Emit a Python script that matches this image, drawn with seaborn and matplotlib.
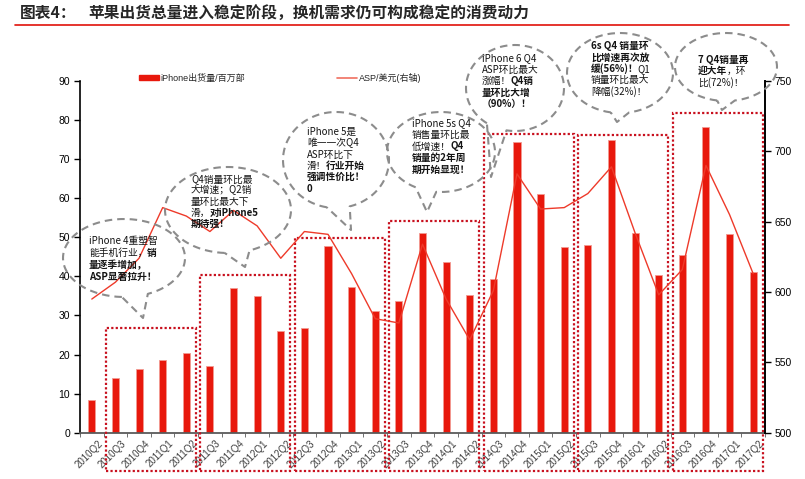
import numpy as np
import pandas as pd
import matplotlib
matplotlib.use('Agg')
import matplotlib.pyplot as plt
import matplotlib.transforms as mtransforms
from matplotlib.patches import Rectangle, Patch
from matplotlib.lines import Line2D
import seaborn as sns

# ---- data ----
quarters = ['2010Q2', '2010Q3', '2010Q4', '2011Q1', '2011Q2', '2011Q3', '2011Q4', '2012Q1',
            '2012Q2', '2012Q3', '2012Q4', '2013Q1', '2013Q2', '2013Q3', '2013Q4', '2014Q1',
            '2014Q2', '2014Q3', '2014Q4', '2015Q1', '2015Q2', '2015Q3', '2015Q4', '2016Q1',
            '2016Q2', '2016Q3', '2016Q4', '2017Q1', '2017Q2']
shipments = [8.4, 14.1, 16.2, 18.6, 20.3, 17.1, 37.0, 35.0, 26.0, 26.9, 47.8, 37.4, 31.2, 33.8,
             51.0, 43.7, 35.2, 39.3, 74.5, 61.2, 47.5, 48.0, 74.8, 51.2, 40.4, 45.5, 78.3, 50.8, 41.0]
asp = [595, 607, 624, 660, 654, 643, 658, 647, 624, 643, 641, 613, 581, 578, 634, 595, 566, 601,
       684, 659, 660, 670, 689, 642, 598, 616, 690, 655, 613]
# top of each dotted "product year" box, left axis units
group_tops = [26.8, 40.4, 49.8, 54.2, 76.4, 76.2, 81.7]

title_tag = '图表4：'
title = '苹果出货总量进入稳定阶段，换机需求仍可构成稳定的消费动力'
bar_label = 'iPhone出货量/百万部'
line_label = 'ASP/美元(右轴)'

# bubble notes: lines of (text, bold) segments
notes = [
    [[('iPhone 4重塑智', False)], [('能手机行业，', False), ('销', True)],
     [('量逐季增加，', True)], [('ASP显著拉升！', True)]],
    [[('Q4销量环比最', False)], [('大增速；Q2销', False)], [('量环比最大下', False)],
     [('滑，', False), ('对iPhone5', True)], [('期待强！', True)]],
    [[('iPhone 5是', False)], [('唯一一次Q4', False)], [('ASP环比下', False)],
     [('滑！', False), ('行业开始', True)], [('强调性价比！', True)], [('0', True)]],
    [[('iPhone 5s Q4', False)], [('销售量环比最', False)], [('低增速！', False), ('Q4', True)],
     [('销量的2年周', True)], [('期开始显现！', True)]],
    [[('iPhone 6 Q4', False)], [('ASP环比最大', False)], [('涨幅！', False), ('Q4销', True)],
     [('量环比大增', True)], [('（90%）！', True)]],
    [[('6s Q4 销量环', True)], [('比增速再次放', True)], [('缓(56%)！', True), ('Q1', False)],
     [('销量环比最大', False)], [('降幅(32%)！', False)]],
    [[('7 Q4销量再', True)], [('迎大年', True), ('，环', False)], [('比(72%)！', False)]],
]

# bubble layout in figure pixels: centre, half axes, tail gap angles, tail tip, text origin
bubbles = [
    dict(c=(124, 258), r=(61, 39), gap=(67, 92), tip=(143, 318), txt=(89, 241), dy=12),
    dict(c=(228, 210), r=(63, 43), gap=(70, 93), tip=(245, 267), txt=(191, 179), dy=11.3),
    dict(c=(336, 160), r=(53, 48), gap=(75, 100), tip=(351, 230), txt=(307, 132), dy=11.3),
    dict(c=(441, 152), r=(54, 40), gap=(95, 118), tip=(427, 212), txt=(412, 123), dy=11.7),
    dict(c=(515, 88), r=(49, 43), gap=(100, 125), tip=(491, 177), txt=(482, 58), dy=11.5),
    dict(c=(620, 73), r=(53, 40), gap=(80, 100), tip=(617, 122), txt=(591, 46), dy=11.3),
    dict(c=(726, 67), r=(51, 34), gap=(80, 100), tip=(722, 110), txt=(698, 60), dy=11.2),
]

RED = '#E8180C'
LINE_RED = '#EE3A2A'
BOX_RED = '#C8101E'
GRAY = '#8C8C8C'
CJK = ['Noto Sans CJK SC', 'DejaVu Sans']

sns.set_style('white')
plt.rcParams['font.family'] = ['Liberation Sans', 'Noto Sans CJK SC', 'DejaVu Sans']

n = len(quarters)
df = pd.DataFrame({'quarter': quarters, 'shipments': shipments, 'asp': asp, 'pos': np.arange(n)})

W, H = 805, 479
fig = plt.figure(figsize=(W / 100, H / 100), dpi=100)
ax = fig.add_axes([80 / W, (H - 432.7) / H, 685 / W, 351.7 / H])

sns.barplot(data=df, x='quarter', y='shipments', color=RED, width=0.3, saturation=1,
            edgecolor='#F29A92', linewidth=0.6, ax=ax)
ax.set_xlim(-0.5, n - 0.5)
ax.set_ylim(0, 90)
ax.set_yticks(range(0, 91, 10))
ax.set_xlabel('')
ax.set_ylabel('')

ax2 = ax.twinx()
sns.lineplot(data=df, x='pos', y='asp', color=LINE_RED, linewidth=1.0, ax=ax2)
ax2.set_xlim(-0.5, n - 0.5)
ax2.set_ylim(500, 750)
ax2.set_yticks(range(500, 751, 50))
ax2.set_xlabel('')
ax2.set_ylabel('')

# axes styling
for s in ['top', 'right']:
    ax.spines[s].set_visible(False)
for s in ['top', 'left', 'bottom']:
    ax2.spines[s].set_visible(False)
ax.spines['left'].set_color('black')
ax.spines['left'].set_linewidth(1.2)
ax.spines['bottom'].set_color('#5a5a5a')
ax.spines['bottom'].set_linewidth(1.3)
ax2.spines['right'].set_color('black')
ax2.spines['right'].set_linewidth(1.4)

ax.tick_params(axis='y', left=True, direction='out', length=4, width=1, labelsize=7.5,
               colors='black', pad=3)
ax2.tick_params(axis='y', right=True, direction='out', length=4, width=1, labelsize=7.5,
                colors='black', pad=3)
ax.set_xticks(range(n))
ax.set_xticklabels(quarters, rotation=45, ha='right', fontsize=7, color='#404040')
ax.set_xticks(np.arange(-0.5, n), minor=True)
ax.tick_params(axis='x', which='major', length=0, pad=4)
ax.tick_params(axis='x', which='minor', bottom=True, length=3, color='#5a5a5a')
shift = mtransforms.ScaledTranslation(0.13, 0, fig.dpi_scale_trans)
for lbl in ax.get_xticklabels():
    lbl.set_transform(lbl.get_transform() + shift)

# dotted boxes around each product year (4 quarters each)
for k, top in enumerate(group_tops):
    x0 = 1 + 4 * k - 0.4
    x1 = 4 + 4 * k + 0.4
    ax.add_patch(Rectangle((x0, -9.8), x1 - x0, top + 9.8, fill=False, ec=BOX_RED, lw=1.6,
                           ls=(0, (1, 1)), clip_on=False, zorder=5))

# legend
handles = [Patch(facecolor=RED, edgecolor=RED), Line2D([], [], color='#F07060', lw=1.2)]
fig.legend(handles, [bar_label, line_label], loc='center left',
           bbox_to_anchor=(139 / W, 1 - 78 / H), ncol=2, frameon=False, fontsize=6.5,
           handlelength=2.2, handleheight=0.45, handletextpad=0.2, columnspacing=10.2,
           borderpad=0, borderaxespad=0)

# overlay in pixel units for title and bubbles
ov = fig.add_axes([0, 0, 1, 1], zorder=10)
ov.set_xlim(0, W)
ov.set_ylim(H, 0)
ov.axis('off')
ov.patch.set_alpha(0)

ov.text(20, 13, title_tag, fontsize=11.3, fontweight='bold', va='center', family=CJK)
ov.text(88, 13, title, fontsize=11.3, fontweight='bold', va='center', family=CJK)
ov.plot([15, 789], [24.5, 24.5], color='#E0120A', lw=1.2)

renderer = fig.canvas.get_renderer()
inv = ov.transData.inverted()

for b, lines in zip(bubbles, notes):
    cx, cy = b['c']
    a, bb = b['r']
    ta, tb = b['gap']
    t = np.deg2rad(np.linspace(tb, ta + 360, 200))
    xs = list(cx + a * np.cos(t)) + [b['tip'][0], cx + a * np.cos(np.deg2rad(tb))]
    ys = list(cy + bb * np.sin(t)) + [b['tip'][1], cy + bb * np.sin(np.deg2rad(tb))]
    ov.plot(xs, ys, color=GRAY, lw=1.5, ls=(0, (3.6, 2.4)))

    tx, ty = b['txt']
    for i, segs in enumerate(lines):
        x = tx
        y = ty + i * b['dy']
        for s, bold in segs:
            txt = ov.text(x, y, s, fontsize=7, fontweight='bold' if bold else 'normal',
                          va='center', ha='left', family=CJK, color='#141414')
            ext = txt.get_window_extent(renderer)
            x = inv.transform((ext.x1, 0))[0] - 1

fig.savefig('out.png', dpi=100)
